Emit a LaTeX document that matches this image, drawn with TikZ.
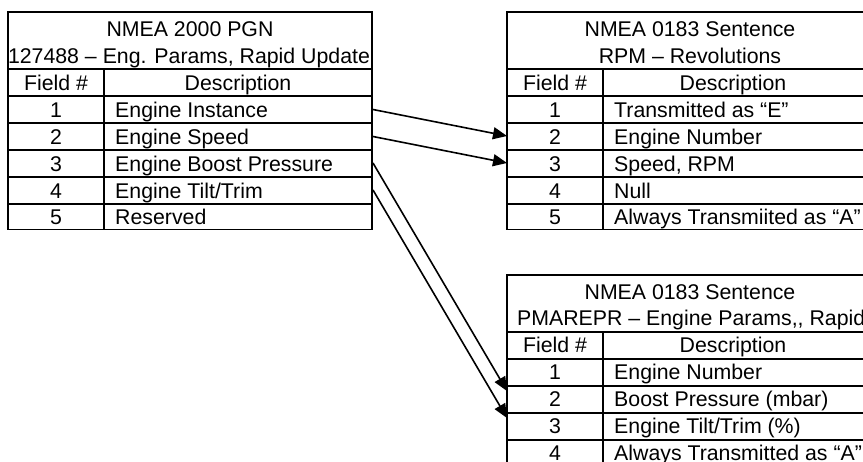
\documentclass[tikz,border=0pt]{standalone}
\usepackage{fontspec}
\setmainfont{Liberation Sans}
\usetikzlibrary{arrows.meta}
\begin{document}
\begin{tikzpicture}[x=1pt,y=-1pt,
  font=\fontsize{21.3}{25}\selectfont,
  grid/.style={line width=1.7pt},
  cell/.style={anchor=base, inner sep=0pt},
  celll/.style={anchor=base west, inner sep=0pt},
  conn/.style={line width=1.6pt, -{Triangle[length=14pt,width=12pt]}}]
\useasboundingbox (0,0) rectangle (863,461);
\clip (0,0) rectangle (863,461);

% ---------- left table ----------
\draw[grid] (8,12) rectangle (372,229.5);
\foreach \y in {69,96,123,150,177,204} \draw[grid] (8,\y) -- (372,\y);
\draw[grid] (104,69) -- (104,229.5);
\node[cell] (lt1) at (190,36) {NMEA 2000 PGN};
\node[cell] (lt2) at (189,63) {127488 – Eng. Params, Rapid Update};
\node[cell] (lhf) at (56,90) {Field \#};
\node[cell] (lhd) at (238,90) {Description};
\node[cell] (ln1) at (56,117) {1};
\node[celll] (ld1) at (115,117) {Engine Instance};
\node[cell] (ln2) at (56,144) {2};
\node[celll] (ld2) at (115,144) {Engine Speed};
\node[cell] (ln3) at (56,171) {3};
\node[celll] (ld3) at (115,171) {Engine Boost Pressure};
\node[cell] (ln4) at (56,198) {4};
\node[celll] (ld4) at (115,198) {Engine Tilt/Trim};
\node[cell] (ln5) at (56,224) {5};
\node[celll] (ld5) at (115,224) {Reserved};

% ---------- right top table ----------
\draw[grid] (507,12) rectangle (873,229.5);
\foreach \y in {69,96,123,150,177,204} \draw[grid] (507,\y) -- (873,\y);
\draw[grid] (603,69) -- (603,229.5);
\node[cell] (rt1) at (690,36) {NMEA 0183 Sentence};
\node[cell] (rt2) at (690,63) {RPM – Revolutions};
\node[cell] (rhf) at (555,90) {Field \#};
\node[cell] (rhd) at (733,90) {Description};
\node[cell] (rn1) at (555,117) {1};
\node[celll] (rd1) at (614,117) {Transmitted as “E”};
\node[cell] (rn2) at (555,144) {2};
\node[celll] (rd2) at (614,144) {Engine Number};
\node[cell] (rn3) at (555,171) {3};
\node[celll] (rd3) at (614,171) {Speed, RPM};
\node[cell] (rn4) at (555,198) {4};
\node[celll] (rd4) at (614,198) {Null};
\node[cell] (rn5) at (555,224) {5};
\node[celll] (rd5) at (614,224) {Always Transmiited as “A”};

% ---------- right bottom table ----------
\draw[grid] (507,275) rectangle (873,480);
\foreach \y in {332,359,386,413,440} \draw[grid] (507,\y) -- (873,\y);
\draw[grid] (603,332) -- (603,480);
\node[cell] (bt1) at (690,299) {NMEA 0183 Sentence};
\node[celll] (bt2) at (517,325) {PMAREPR – Engine Params,{},{} Rapid Update};
\node[cell] (bhf) at (555,352) {Field \#};
\node[cell] (bhd) at (733,352) {Description};
\node[cell] (bn1) at (555,379) {1};
\node[celll] (bd1) at (614,379) {Engine Number};
\node[cell] (bn2) at (555,406) {2};
\node[celll] (bd2) at (614,406) {Boost Pressure (mbar)};
\node[cell] (bn3) at (555,433) {3};
\node[celll] (bd3) at (614,433) {Engine Tilt/Trim (\%)};
\node[cell] (bn4) at (555,460) {4};
\node[celll] (bd4) at (614,460) {Always Transmitted as “A”};

% ---------- connectors ----------
\coordinate (lo1) at (373,109.5);
\coordinate (lo2) at (373,136.5);
\coordinate (lo3) at (373,163);
\coordinate (lo4) at (373,190);
\coordinate (ri2) at (507,136);
\coordinate (ri3) at (507,163);
\coordinate (bi2) at (507,391);
\coordinate (bi3) at (507,418);
\draw[conn] (lo1) -- (ri2);
\draw[conn] (lo2) -- (ri3);
\draw[conn] (lo3) -- (bi2);
\draw[conn] (lo4) -- (bi3);
\end{tikzpicture}
\end{document}
